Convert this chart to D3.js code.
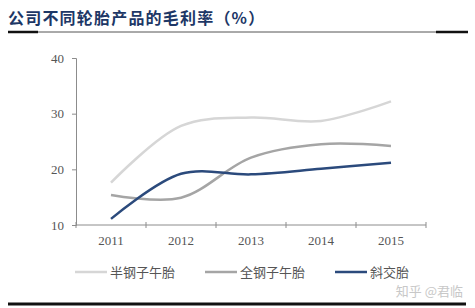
<!DOCTYPE html>
<html lang="zh">
<head>
<meta charset="UTF-8">
<title>公司不同轮胎产品的毛利率</title>
<script src="https://d3js.org/d3.v7.min.js"></script>
<style>
  body { margin: 0; background: #fff; }
</style>
</head>
<body>
<script>
  // data
  var years = ["2011", "2012", "2013", "2014", "2015"];
  var seriesNames = ["半钢子午胎", "全钢子午胎", "斜交胎"];
  var semiSteel = [17.6, 27.8, 29.3, 28.7, 32.2];
  var allSteel = [15.4, 14.9, 22.1, 24.5, 24.2];
  var bias = [11.1, 19.2, 19.1, 20.1, 21.2];
  var yTicks = [10, 20, 30, 40];

  var colors = ["#d6d6d6", "#a5a5a5", "#2b4a7c"];
  var allSeries = [semiSteel, allSteel, bias];

  var W = 475, H = 308;
  var svg = d3.select("body").append("svg")
    .attr("width", W).attr("height", H);

  // title
  svg.append("text")
    .attr("x", 8).attr("y", 24)
    .attr("font-family", "Noto Sans CJK SC")
    .attr("font-weight", "bold")
    .attr("font-size", 16)
    .attr("letter-spacing", 1.2)
    .attr("fill", "#1d3766")
    .text("公司不同轮胎产品的毛利率（%）");

  // rule below title
  svg.append("line").attr("x1", 8).attr("x2", 468).attr("y1", 32).attr("y2", 32)
    .attr("stroke", "#555").attr("stroke-width", 1);
  svg.append("line").attr("x1", 8).attr("x2", 38).attr("y1", 32).attr("y2", 32)
    .attr("stroke", "#111").attr("stroke-width", 2.5);
  svg.append("line").attr("x1", 436).attr("x2", 468).attr("y1", 32).attr("y2", 32)
    .attr("stroke", "#111").attr("stroke-width", 2.5);

  // bottom rule
  svg.append("line").attr("x1", 8).attr("x2", 466).attr("y1", 304).attr("y2", 304)
    .attr("stroke", "#111").attr("stroke-width", 3);

  var x = d3.scaleBand().domain(years).range([76, 426]);
  var y = d3.scaleLinear().domain([10, 40]).range([225, 58]);

  // y axis
  var yAxis = svg.append("g")
    .attr("transform", "translate(76,0)")
    .call(d3.axisLeft(y).tickValues(yTicks).tickSize(4).tickPadding(8));
  yAxis.select(".domain").attr("stroke", "#8c8c8c");
  yAxis.selectAll(".tick line").attr("stroke", "#8c8c8c");
  yAxis.selectAll("text")
    .attr("font-family", "Liberation Serif")
    .attr("font-size", 13)
    .attr("fill", "#555");

  // x axis with ticks between categories
  var xAxis = svg.append("g").attr("transform", "translate(0,225)");
  xAxis.append("line")
    .attr("x1", x.range()[0]).attr("x2", x.range()[1])
    .attr("stroke", "#8c8c8c");
  xAxis.selectAll(".xtick")
    .data(years.concat(["end"]))
    .enter().append("line")
    .attr("x1", function(d, i) { return x.range()[0] + i * x.step(); })
    .attr("x2", function(d, i) { return x.range()[0] + i * x.step(); })
    .attr("y1", -3).attr("y2", 3)
    .attr("stroke", "#8c8c8c");
  xAxis.selectAll(".xlabel")
    .data(years)
    .enter().append("text")
    .attr("x", function(d) { return x(d) + x.bandwidth() / 2; })
    .attr("y", 20)
    .attr("text-anchor", "middle")
    .attr("font-family", "Liberation Serif")
    .attr("font-size", 13)
    .attr("fill", "#555")
    .text(function(d) { return d; });

  // lines
  var line = d3.line()
    .x(function(d, i) { return x(years[i]) + x.bandwidth() / 2; })
    .y(function(d) { return y(d); })
    .curve(d3.curveCatmullRom.alpha(0.5));

  svg.selectAll(".series")
    .data(allSeries)
    .enter().append("path")
    .attr("d", line)
    .attr("fill", "none")
    .attr("stroke", function(d, i) { return colors[i]; })
    .attr("stroke-width", 2.5);

  // legend
  var legendX = [75, 205, 335];
  var legend = svg.selectAll(".legend")
    .data(seriesNames)
    .enter().append("g")
    .attr("transform", function(d, i) { return "translate(" + legendX[i] + ",272)"; });
  legend.append("line")
    .attr("x1", 0).attr("x2", 32)
    .attr("stroke", function(d, i) { return colors[i]; })
    .attr("stroke-width", 2.5);
  legend.append("text")
    .attr("x", 35).attr("y", 5)
    .attr("font-family", "Noto Sans CJK SC")
    .attr("font-size", 13)
    .attr("fill", "#555")
    .text(function(d) { return d; });

  // watermark
  svg.append("text")
    .attr("x", 463).attr("y", 296)
    .attr("text-anchor", "end")
    .attr("font-family", "Noto Sans CJK SC")
    .attr("font-size", 13)
    .attr("fill", "#c8c8c8")
    .text("知乎 @君临");
</script>
</body>
</html>
